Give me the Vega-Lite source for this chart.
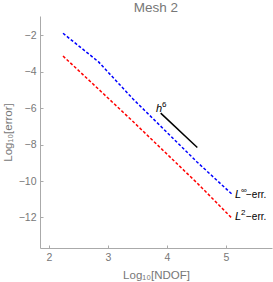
{
  "$schema": "https://vega.github.io/schema/vega-lite/v6.json",
  "width": 232,
  "height": 232,
  "autosize": {"type": "none"},
  "padding": {"left": 40, "top": 16, "right": 1, "bottom": 34},
  "background": "white",
  "config": {
    "view": {"stroke": null},
    "font": "Liberation Sans",
    "axis": {
      "grid": false,
      "domainColor": "#aaaaaa",
      "tickColor": "#aaaaaa",
      "labelColor": "#777777",
      "titleColor": "#777777",
      "labelFont": "Liberation Sans",
      "titleFont": "Liberation Sans",
      "labelFontSize": 10.5,
      "titleFontSize": 11.5,
      "titleFontWeight": "normal",
      "tickSize": -3,
      "labelPadding": 7
    }
  },
  "title": {"text": "Mesh 2", "fontSize": 13.5, "fontWeight": "normal", "color": "#777777", "font": "Liberation Sans", "offset": 2, "anchor": "middle"},
  "datasets": {
    "series": [
      {"series": "Linf", "x": 2.237, "y": -1.88},
      {"series": "Linf", "x": 2.836, "y": -3.44},
      {"series": "Linf", "x": 3.424, "y": -5.49},
      {"series": "Linf", "x": 4.508, "y": -8.95},
      {"series": "Linf", "x": 5.1, "y": -10.72},
      {"series": "L2", "x": 2.237, "y": -3.13},
      {"series": "L2", "x": 2.836, "y": -4.94},
      {"series": "L2", "x": 3.424, "y": -6.73},
      {"series": "L2", "x": 4.508, "y": -10.1},
      {"series": "L2", "x": 5.1, "y": -12.04}
    ],
    "slope": [
      {"x": 3.893, "y": -6.27},
      {"x": 4.514, "y": -8.16}
    ],
    "labels": [
      {"x": 3.814, "y": -6.2, "main": "h", "sup": "6", "rest": ""},
      {"x": 5.153, "y": -10.93, "main": "L", "sup": "∞", "rest": "−err."},
      {"x": 5.153, "y": -12.14, "main": "L", "sup": "2", "rest": "−err."}
    ]
  },
  "layer": [
    {
      "data": {"name": "series"},
      "mark": {"type": "line", "strokeWidth": 1.5, "strokeDash": [3, 2]},
      "encoding": {
        "x": {"field": "x", "type": "quantitative", "scale": {"domain": [1.847, 5.78], "nice": false, "zero": false}, "axis": {"values": [2, 3, 4, 5], "format": "d", "title": "Log₁₀[NDOF]", "titlePadding": 7}},
        "y": {"field": "y", "type": "quantitative", "scale": {"domain": [-13.68, -0.93], "nice": false, "zero": false}, "axis": {"values": [-2, -4, -6, -8, -10, -12], "title": "Log₁₀[error]", "titlePadding": 5}},
        "color": {"field": "series", "type": "nominal", "scale": {"domain": ["Linf", "L2"], "range": ["#0000ff", "#ff0000"]}, "legend": null},
        "detail": {"field": "series"}
      }
    },
    {
      "data": {"name": "slope"},
      "mark": {"type": "line", "color": "black", "strokeWidth": 1.5},
      "encoding": {
        "x": {"field": "x", "type": "quantitative"},
        "y": {"field": "y", "type": "quantitative"}
      }
    },
    {
      "data": {"name": "labels"},
      "mark": {"type": "text", "align": "left", "baseline": "alphabetic", "fontSize": 11, "fontStyle": "italic", "color": "black"},
      "encoding": {
        "x": {"field": "x", "type": "quantitative"},
        "y": {"field": "y", "type": "quantitative"},
        "text": {"field": "main"}
      }
    },
    {
      "data": {"name": "labels"},
      "mark": {"type": "text", "align": "left", "baseline": "alphabetic", "fontSize": 8, "dx": 6, "dy": -5, "color": "black"},
      "encoding": {
        "x": {"field": "x", "type": "quantitative"},
        "y": {"field": "y", "type": "quantitative"},
        "text": {"field": "sup"}
      }
    },
    {
      "data": {"name": "labels"},
      "mark": {"type": "text", "align": "left", "baseline": "alphabetic", "fontSize": 10, "dx": 11, "color": "black"},
      "encoding": {
        "x": {"field": "x", "type": "quantitative"},
        "y": {"field": "y", "type": "quantitative"},
        "text": {"field": "rest"}
      }
    }
  ]
}
